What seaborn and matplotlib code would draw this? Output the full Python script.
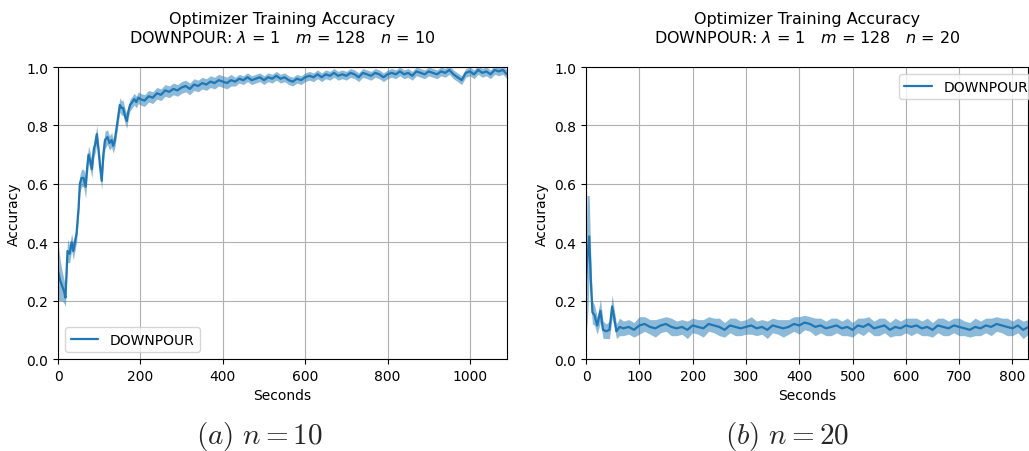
import matplotlib
matplotlib.use('Agg')
import matplotlib.pyplot as plt
import seaborn as sns
import pandas as pd
import numpy as np

# n = 10 run
t_a = [0, 5, 10, 15, 18, 23, 28, 33, 37, 41, 45, 50, 53, 57, 62, 67, 71, 74, 78, 82,
       87, 91, 94, 98, 102, 106, 110, 114, 120, 125, 130, 134, 138, 143, 150, 154, 158,
       163, 167, 171, 175, 180, 185, 190, 195, 200,
       210, 220, 230, 240, 250, 260, 270, 280, 290, 300, 310, 320, 330, 340, 350, 360,
       370, 380, 390, 400, 410, 420, 430, 440, 450, 460, 470, 480, 490, 500, 510, 520,
       530, 540, 550, 560, 570, 580, 590, 600, 610, 620, 630, 640, 650, 660, 670, 680,
       690, 700, 710, 720, 730, 740, 750, 760, 770, 780, 790, 800, 810, 820, 830, 840,
       850, 860, 870, 880, 890, 900, 910, 920, 930, 940, 950, 960, 970, 980, 990, 1000,
       1010, 1020, 1030, 1040, 1050, 1060, 1070, 1080, 1090]
acc_a = [0.30, 0.27, 0.25, 0.23, 0.21, 0.37, 0.36, 0.40, 0.37, 0.40, 0.43, 0.52, 0.60, 0.62,
         0.62, 0.59, 0.66, 0.70, 0.68, 0.65, 0.72, 0.74, 0.77, 0.72, 0.66, 0.61, 0.70, 0.75,
         0.76, 0.74, 0.75, 0.73, 0.75, 0.80, 0.87, 0.86, 0.86, 0.83, 0.815, 0.85, 0.87, 0.88,
         0.89, 0.88, 0.895, 0.89,
         0.885, 0.90, 0.895, 0.91, 0.905, 0.92, 0.915, 0.925, 0.92, 0.93, 0.935, 0.925,
         0.94, 0.935, 0.945, 0.94, 0.95, 0.945, 0.955, 0.95, 0.945, 0.955, 0.95, 0.96,
         0.955, 0.965, 0.955, 0.96, 0.965, 0.955, 0.965, 0.96, 0.97, 0.96, 0.965, 0.955,
         0.95, 0.96, 0.955, 0.965, 0.97, 0.965, 0.975, 0.965, 0.975, 0.97, 0.98, 0.97,
         0.975, 0.97, 0.98, 0.975, 0.965, 0.98, 0.975, 0.97, 0.98, 0.975, 0.965, 0.975,
         0.98, 0.975, 0.985, 0.975, 0.98, 0.97, 0.985, 0.98, 0.975, 0.985, 0.98, 0.975,
         0.985, 0.98, 0.99, 0.975, 0.965, 0.955, 0.98, 0.985, 0.975, 0.99, 0.98, 0.985,
         0.975, 0.99, 0.985, 0.99, 0.975]
err_a = [0.10, 0.07, 0.05, 0.04, 0.03, 0.04, 0.03, 0.03, 0.03, 0.03, 0.03, 0.03, 0.03, 0.03,
         0.03, 0.04, 0.03, 0.03, 0.03, 0.03, 0.03, 0.03, 0.03, 0.03, 0.03, 0.03, 0.03, 0.03,
         0.025, 0.025, 0.025, 0.025, 0.025, 0.025, 0.025, 0.025, 0.025, 0.025, 0.025, 0.02,
         0.02, 0.02, 0.02, 0.02, 0.02, 0.02,
         0.02, 0.02, 0.02, 0.02, 0.02, 0.02, 0.02, 0.02, 0.02, 0.02, 0.02, 0.02,
         0.02, 0.02, 0.02, 0.02, 0.02, 0.02, 0.02, 0.02, 0.02, 0.02, 0.015, 0.015,
         0.015, 0.015, 0.015, 0.015, 0.015, 0.015, 0.015, 0.015, 0.015, 0.015, 0.015, 0.015,
         0.015, 0.015, 0.015, 0.015, 0.015, 0.015, 0.015, 0.015, 0.015, 0.015, 0.015, 0.015,
         0.015, 0.015, 0.015, 0.015, 0.015, 0.015, 0.015, 0.015, 0.015, 0.015, 0.015, 0.015,
         0.015, 0.015, 0.015, 0.015, 0.015, 0.015, 0.015, 0.015, 0.015, 0.015, 0.015, 0.015,
         0.015, 0.015, 0.015, 0.015, 0.015, 0.015, 0.015, 0.015, 0.015, 0.015, 0.015, 0.015,
         0.015, 0.015, 0.015, 0.015, 0.015]

# n = 20 run
t_b = [0, 2, 6, 9, 12, 16, 21, 27, 32, 38, 44, 49, 53, 57, 63,
       70, 80, 90, 100, 110, 120, 130, 140, 150, 160, 170, 180, 190, 200, 210, 220,
       230, 240, 250, 260, 270, 280, 290, 300, 310, 320, 330, 340, 350, 360, 370, 380,
       390, 400, 410, 420, 430, 440, 450, 460, 470, 480, 490, 500, 510, 520, 530, 540,
       550, 560, 570, 580, 590, 600, 610, 620, 630, 640, 650, 660, 670, 680, 690, 700,
       710, 720, 730, 740, 750, 760, 770, 780, 790, 800, 810, 820, 830]
acc_b = [0.27, 0.33, 0.42, 0.27, 0.16, 0.15, 0.115, 0.165, 0.10, 0.095, 0.10, 0.18, 0.14,
         0.095, 0.11,
         0.105, 0.11, 0.10, 0.115, 0.12, 0.11, 0.105, 0.115, 0.12, 0.11, 0.105, 0.11, 0.10,
         0.115, 0.11, 0.105, 0.12, 0.115, 0.11, 0.10, 0.115, 0.11, 0.105, 0.11, 0.115, 0.105,
         0.11, 0.10, 0.115, 0.11, 0.105, 0.11, 0.12, 0.115, 0.125, 0.12, 0.11, 0.115, 0.105,
         0.11, 0.115, 0.105, 0.11, 0.10, 0.115, 0.11, 0.12, 0.105, 0.11, 0.115, 0.10, 0.11,
         0.105, 0.115, 0.11, 0.115, 0.105, 0.11, 0.10, 0.115, 0.11, 0.105, 0.115, 0.11,
         0.105, 0.10, 0.11, 0.105, 0.115, 0.11, 0.12, 0.115, 0.11, 0.105, 0.115, 0.10, 0.11]
err_b = [0.10, 0.23, 0.14, 0.08, 0.04, 0.035, 0.03, 0.04, 0.03, 0.025, 0.03, 0.04, 0.03,
         0.025, 0.03,
         0.025, 0.025, 0.025, 0.03, 0.025, 0.025, 0.03, 0.025, 0.025, 0.03, 0.025, 0.025,
         0.03, 0.025, 0.025, 0.03, 0.025, 0.025, 0.03, 0.025, 0.025, 0.03, 0.025, 0.025,
         0.03, 0.025, 0.025, 0.03, 0.025, 0.025, 0.03, 0.025, 0.025, 0.03, 0.025, 0.025,
         0.03, 0.025, 0.025, 0.03, 0.025, 0.025, 0.03, 0.025, 0.025, 0.03, 0.025, 0.025,
         0.03, 0.025, 0.025, 0.03, 0.025, 0.025, 0.03, 0.025, 0.025, 0.03, 0.025, 0.025,
         0.03, 0.025, 0.025, 0.03, 0.025, 0.025, 0.03, 0.025, 0.025, 0.03, 0.025, 0.025,
         0.03, 0.025, 0.025, 0.03, 0.025]

panels = [
    dict(t=t_a, acc=acc_a, err=err_a, n=10, xmax=1090, xstep=200, cap='a', capx=0.252,
         legend=dict(loc='lower left')),
    dict(t=t_b, acc=acc_b, err=err_b, n=20, xmax=830, xstep=100, cap='b', capx=0.765,
         legend=dict(loc='upper right', bbox_to_anchor=(1.027, 1.0))),
]

sns.set_style('ticks', rc={'axes.grid': True, 'grid.color': '#b0b0b0', 'grid.linewidth': 1.0,
                           'axes.edgecolor': 'black', 'xtick.direction': 'out',
                           'ytick.direction': 'out'})
plt.rcParams['font.family'] = ['DejaVu Sans']

color = '#1f77b4'
fig = plt.figure(figsize=(10.29, 4.52), dpi=100)
boxes = [[0.0564, 0.2035, 0.4363, 0.646], [0.5695, 0.2035, 0.4300, 0.646]]

for p, box in zip(panels, boxes):
    ax = fig.add_axes(box)
    df = pd.DataFrame({'Seconds': p['t'], 'Accuracy': p['acc']})
    lo = np.array(p['acc']) - np.array(p['err'])
    hi = np.array(p['acc']) + np.array(p['err'])
    ax.fill_between(p['t'], lo, hi, color=color, alpha=0.5, lw=0)
    sns.lineplot(data=df, x='Seconds', y='Accuracy', ax=ax, color=color, lw=1.6,
                 label='DOWNPOUR')
    ax.set_xlim(0, p['xmax'])
    ax.set_ylim(0, 1)
    ax.set_xticks(np.arange(0, p['xmax'] + 1, p['xstep']))
    ax.set_yticks(np.arange(0, 1.01, 0.2))
    ax.tick_params(labelsize=10, colors='black')
    ax.set_xlabel('Seconds', fontsize=10, color='black')
    ax.set_ylabel('Accuracy', fontsize=10, color='black')
    ax.set_title('Optimizer Training Accuracy\n'
                 f'DOWNPOUR: $\\lambda$ = 1   $m$ = 128   $n$ = {p["n"]}',
                 fontsize=11.5, pad=18, color='black')
    leg = ax.legend(fontsize=10, **p['legend'])
    for txt in leg.get_texts():
        txt.set_color('black')
    fig.text(p['capx'], 0.035, f'$({p["cap"]})\\ n = {p["n"]}$', ha='center', va='center',
             fontsize=21, math_fontfamily='cm')

fig.savefig('out.png', dpi=100)
